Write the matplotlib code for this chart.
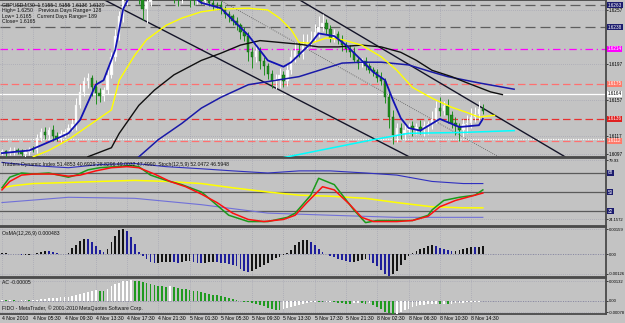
import matplotlib.pyplot as plt
import numpy as np

# prices are kept in pips above 1.6000
BASE = 1.6
PIP = 0.0001

first_open = 99
close_pips = [
    100, 98, 101, 102, 100, 97, 99, 103, 101, 115,
    121, 118, 124, 117, 114, 119, 122, 126, 130, 152,
    166, 178, 181, 172, 165, 162, 168, 185, 205, 228,
    250, 270, 276, 281, 278, 270, 258, 266, 274, 279,
    283, 282, 279, 276, 271, 269, 280, 277, 270, 268,
    272, 267, 268, 265, 263, 262, 258, 252, 250, 245,
    240, 233, 228, 210, 205, 212, 200, 195, 186, 178,
    180, 185, 178, 190, 205, 212, 208, 218, 222, 224,
    232, 238, 242, 236, 226, 230, 224, 218, 214, 210,
    202, 198, 200, 195, 190, 188, 182, 178, 160, 138,
    118, 126, 120, 124, 128, 125, 127, 124, 128, 130,
    136, 148, 145, 150, 140, 132, 128, 124, 130, 132,
    138, 142, 147, 145,
]
wick_up = [
    3, 2, 4, 3, 2, 3, 4, 2, 3, 4,
    5, 6, 3, 5, 4, 5, 3, 4, 6, 7,
    9, 5, 6, 4, 7, 5, 4, 6, 5, 8,
    6, 5, 7, 5, 4, 6, 5, 4, 6, 3,
    5, 4, 6, 4, 5, 3, 5, 4, 6, 3,
    4, 3, 5, 2, 4, 3, 5, 3, 4, 3,
    4, 3, 5, 4, 6, 8, 4, 5, 3, 4,
    6, 8, 4, 7, 8, 9, 10, 12, 8, 10,
    9, 12, 10, 5, 4, 6, 4, 5, 3, 4,
    6, 3, 4, 5, 3, 4, 3, 6, 4, 5,
    8, 6, 5, 7, 4, 6, 5, 8, 6, 4,
    9, 8, 12, 6, 8, 5, 6, 4, 6, 8,
    10, 7, 9, 6,
]
wick_dn = [
    3, 4, 2, 5, 3, 2, 4, 3, 2, 3,
    3, 4, 5, 6, 3, 4, 3, 4, 3, 6,
    4, 5, 8, 10, 12, 7, 6, 4, 3, 5,
    4, 6, 8, 5, 4, 6, 12, 15, 5, 4,
    6, 3, 5, 4, 6, 8, 4, 5, 10, 5,
    4, 3, 5, 4, 6, 3, 5, 4, 6, 5,
    5, 8, 5, 10, 12, 6, 8, 10, 6, 8,
    9, 10, 6, 5, 4, 6, 3, 5, 4, 6,
    3, 5, 4, 6, 5, 4, 5, 6, 4, 5,
    3, 6, 4, 5, 3, 4, 5, 4, 6, 12,
    10, 8, 6, 7, 5, 8, 6, 5, 7, 9,
    5, 4, 6, 5, 8, 6, 10, 12, 8, 10,
    6, 5, 7, 4,
]

# moving averages, read as (bar, pips)
ma_fast = [(0, 98), (7, 101), (15, 116), (17, 120), (20, 135), (24, 174), (26, 179),
           (29, 213), (31, 258), (34, 284), (40, 288), (46, 281), (51, 265), (56, 259),
           (63, 229), (68, 201), (72, 194), (74, 199), (79, 220), (81, 231), (85, 228),
           (88, 218), (92, 201), (95, 188), (98, 179), (100, 157), (102, 137), (104, 126),
           (107, 123), (112, 136), (117, 127), (122, 129), (123, 136)]
ma_mid = [(8, 94), (12, 101), (17, 113), (25, 137), (28, 146), (30, 179), (34, 207),
          (37, 224), (42, 240), (46, 248), (51, 255), (56, 258), (63, 259), (68, 257),
          (71, 248), (74, 235), (76, 221), (79, 220), (83, 226), (87, 224), (92, 218),
          (97, 205), (101, 190), (105, 171), (110, 159), (115, 149), (119, 143),
          (122, 138), (126, 140)]
ma_slow = [(22, 94), (28, 104), (30, 120), (35, 151), (39, 168), (44, 185), (51, 201),
           (56, 209), (61, 218), (66, 223), (71, 221), (76, 219), (81, 216), (86, 216),
           (92, 218), (97, 216), (102, 210), (106, 201), (110, 190), (115, 183),
           (119, 176), (125, 166), (128, 163)]
ma_long = [(34, 90), (40, 113), (46, 131), (51, 148), (56, 160), (63, 174), (76, 183),
           (87, 198), (92, 199), (97, 199), (104, 196), (110, 188), (114, 183),
           (122, 176), (131, 169)]
ma_cyan = [(72, 93), (95, 113), (104, 120), (118, 121), (131, 123)]

trend_lower = [(26.3, 268), (104.3, 93.6)]
trend_upper = [(76.2, 268), (144, 94)]
trend_mid = [(55.8, 268), (128.6, 90)]

# horizontal levels: pips, colour, style, box colour (None = no box), box text colour
levels = [
    (262.5, "#5e5e5e", (0, (8, 4)), "#1c1c6e", "white"),
    (238.0, "#5e5e5e", (0, (8, 4)), "#1c1c6e", "white"),
    (214.0, "#ff00ff", (0, (6, 3, 1, 3)), "#ff00ff", "white"),
    (175.0, "#ff7070", (0, (6, 3)), "#ff7a6a", "white"),
    (164.0, "#ffffff", "-", "#ffffff", "black"),
    (136.0, "#e83030", (0, (6, 3)), "#e02020", "white"),
    (114.0, "#ffffff", (0, (1, 1)), None, None),
    (111.5, "#ff7070", (0, (6, 3)), "#ff7a6a", "white"),
]
price_ticks = [97, 117, 157, 197, 257]

# Traders Dynamic Index window
tdi_green = [(0, 54), (2, 64), (5, 68), (8, 67), (12, 68), (17, 64), (19, 66), (22, 71),
             (25, 73), (29, 74), (33, 75), (35, 74), (38, 66), (42, 61), (46, 57), (51, 50),
             (52, 47), (58, 28), (63, 22), (68, 22), (73, 26), (75, 30), (79, 47), (81, 63),
             (85, 57), (90, 33), (93, 21), (96, 23), (102, 23), (105, 23), (109, 28),
             (110, 33), (113, 42), (117, 45), (121, 47), (123, 52)]
tdi_red = [(0, 52), (2, 60), (5, 66), (8, 67), (13, 67), (17, 65), (20, 66), (24, 70),
           (28, 73), (32, 74), (35, 73), (39, 67), (43, 60), (47, 55), (51, 48), (55, 40),
           (59, 30), (63, 24), (67, 22), (72, 24), (75, 28), (78, 40), (82, 55), (85, 52),
           (89, 38), (92, 26), (95, 22), (101, 22), (105, 23), (109, 27), (112, 36),
           (116, 42), (119, 45), (123, 49)]
tdi_base = [(0, 54), (3, 56), (8, 58), (17, 59), (25, 60), (34, 61), (42, 60), (51, 58),
            (59, 54), (68, 50), (76, 47), (84, 46), (93, 44), (101, 40), (110, 36),
            (118, 35), (123, 35)]
tdi_upper = [(0, 78), (8, 75), (17, 73), (25, 76), (34, 77), (42, 74), (51, 72), (59, 70),
             (68, 68), (76, 70), (84, 70), (93, 68), (101, 66), (110, 60), (118, 58), (123, 58)]
tdi_lower = [(0, 40), (17, 45), (34, 44), (51, 38), (68, 30), (84, 28), (101, 26), (123, 26)]

# OsMA and AC, in units of 0.00001
osma = [
    4, 4, 3, 2, -2, -4, -4, -3, -2, 8,
    16, 20, 19, 12, 4, 3, 2, 5, 38, 55,
    80, 97, 95, 75, 50, 25, 10, 35, 75, 115,
    150, 160, 145, 110, 65, 15, -15, -32, -50, -58,
    -57, -52, -50, -48, -52, -55, -50, -46, -45, -50,
    -54, -57, -55, -51, -48, -50, -54, -58, -62, -68,
    -78, -92, -105, -112, -110, -98, -85, -70, -55, -40,
    -28, -16, -6, 8, 28, 55, 78, 90, 92, 78,
    55, 30, 10, 2, -12, -20, -30, -38, -45, -50,
    -48, -44, -38, -32, -40, -55, -75, -100, -125, -138,
    -130, -105, -70, -35, -12, 5, 20, 30, 40, 52,
    60, 50, 38, 30, 24, 18, 20, 26, 32, 38,
    44, 42, 45, 48,
]
ac = [
    3, 2, 3, 2, 1, 2, 3, 2, 3, 4,
    10, 13, 16, 19, 21, 22, 25, 28, 33, 40,
    47, 53, 57, 68, 74, 64, 62, 80, 96, 110,
    122, 130, 136, 140, 136, 131, 125, 119, 113, 107,
    102, 98, 95, 99, 93, 87, 82, 77, 72, 67,
    62, 57, 52, 47, 41, 35, 29, 23, 17, 10,
    4, -3, -7, -12, -17, -22, -30, -38, -47, -55,
    -60, -63, -57, -50, -43, -36, -29, -22, -16, -12,
    -8, -9, -11, -8, -6, -9, -13, -17, -20, -22,
    -18, -16, -19, -21, -18, -28, -42, -58, -74, -86,
    -90, -87, -78, -66, -54, -44, -36, -30, -27, -25,
    -23, -22, -24, -21, -23, -20, -17, -15, -13, -11,
    -10, -8, -7, -5,
]

time_labels = ["4 Nov 2010", "4 Nov 05:30", "4 Nov 09:30", "4 Nov 13:30", "4 Nov 17:30",
               "4 Nov 21:30", "5 Nov 01:30", "5 Nov 05:30", "5 Nov 09:30", "5 Nov 13:30",
               "5 Nov 17:30", "5 Nov 21:30", "8 Nov 02:30", "8 Nov 06:30", "8 Nov 10:30",
               "8 Nov 14:30"]
label_step = 8

plt.rcParams["font.family"] = ["Liberation Sans", "DejaVu Sans"]
FS = 3.7
FS_AX = 3.3
FS_SMALL = 3.0
BG = "#c3c3c3"
FRAME = "#4a4a4a"
W, H = 625, 323
PLOT_W = 606


def to_price(p):
    return BASE + np.asarray(p, dtype=float) * PIP


def xy(points):
    bars, vals = zip(*points)
    return np.array(bars), np.array(vals, dtype=float)


def panel(fig, top, bottom, label_size=FS_AX):
    ax = fig.add_axes([0, 1 - bottom / H, PLOT_W / W, (bottom - top) / H])
    ax.set_facecolor(BG)
    ax.set_xlim(-0.5, 154.5)
    ax.set_xticks(np.arange(len(time_labels)) * label_step)
    ax.tick_params(axis="x", length=0, labelbottom=False)
    ax.yaxis.tick_right()
    ax.tick_params(axis="y", length=1.5, labelsize=label_size, pad=0.6, colors="black", width=0.5)
    ax.grid(True, color="#9c9cae", ls=(0, (1, 2)), lw=0.5)
    for s in ax.spines.values():
        s.set_color(FRAME)
        s.set_linewidth(1.3)
    ax.spines["left"].set_visible(False)
    return ax


def box_label(ax, y, text, fc, tc):
    ax.text(1.003, y, text, transform=ax.get_yaxis_transform(), fontsize=FS_AX,
            color=tc, ha="left", va="center", clip_on=False,
            bbox=dict(boxstyle="square,pad=0.12", fc=fc, ec="none"))


fig = plt.figure(figsize=(W / 100, H / 100), dpi=100, facecolor=BG)

# ---- main price window
ax = panel(fig, 0, 157)
ax.set_ylim(to_price(93.7), to_price(268.1))
ax.set_yticks(to_price(price_ticks))
ax.set_yticklabels(["%.4f" % p for p in to_price(price_ticks)])

for lv, col, ls, fc, tc in levels:
    ax.axhline(to_price(lv), color=col, ls=ls, lw=0.9, zorder=1)
    if fc:
        box_label(ax, to_price(lv), "%.4f" % to_price(lv), fc, tc)

for pts, col, lw, ls in [(trend_lower, "#141428", 1.0, "-"), (trend_upper, "#141428", 1.0, "-"),
                         (trend_mid, "#5a5a5a", 0.6, (0, (1, 1.5)))]:
    bx, by = xy(pts)
    ax.plot(bx, to_price(by), color=col, lw=lw, ls=ls, zorder=2)

opens = [first_open] + close_pips[:-1]
for i, (o, c) in enumerate(zip(opens, close_pips)):
    hi = max(o, c) + wick_up[i]
    lo = min(o, c) - wick_dn[i]
    up = c >= o
    col = "#ffffff" if up else "#1f8f1f"
    ax.vlines(i, to_price(lo), to_price(hi), color=col, lw=0.7, zorder=3)
    body = max(abs(c - o), 0.8)
    ax.bar(i, body * PIP, bottom=to_price(min(o, c)), width=0.62, color=col,
           edgecolor="#e8e8e8" if up else "#0d5e0d", linewidth=0.3, zorder=4)

for pts, col, lw in [(ma_long, "#1a1aa8", 1.1), (ma_slow, "#101010", 1.0),
                     (ma_mid, "#ffff00", 1.0), (ma_cyan, "#00ffff", 1.1),
                     (ma_fast, "#1212b4", 1.3)]:
    bx, by = xy(pts)
    ax.plot(bx, to_price(by), color=col, lw=lw, zorder=5)

info = ["GBPUSD,M30  1.6155 1.6155 1.6136 1.6139",
        "High= 1.6250    Previous Days Range= 128",
        "Low= 1.6165    Current Days Range= 189",
        "Close= 1.6165"]
for k, line in enumerate(info):
    ax.text(0.004, 1 - (5 + 5.6 * k) / 157, line, transform=ax.transAxes,
            fontsize=FS, color="#101010", va="center", zorder=6)

# ---- Traders Dynamic Index window
ax2 = panel(fig, 158, 226, FS_SMALL)
ax2.set_ylim(17.8, 82.2)
ax2.set_yticks([24.1572, 79.93])
ax2.set_yticklabels(["24.1572", "79.93"])
for lv in (68, 50, 32):
    ax2.axhline(lv, color="#5a5a5a", lw=0.9)
    box_label(ax2, lv, "%d" % lv, "#1c1c6e", "white")
for pts, col, lw in [(tdi_lower, "#7070d8", 0.8), (tdi_upper, "#3030c0", 0.8),
                     (tdi_base, "#ffff00", 1.1), (tdi_green, "#1a9a1a", 1.1),
                     (tdi_red, "#ff1010", 1.1)]:
    bx, by = xy(pts)
    ax2.plot(bx, by, color=col, lw=lw)
ax2.text(0.004, 0.9, "Traders Dynamic Index 51.4853 40.6929 28.8296 49.0032 47.4990  "
         "Stoch(12,5,9) 52.0472 46.5948", transform=ax2.transAxes, fontsize=FS,
         color="#101010", va="center")

# ---- OsMA window
ax3 = panel(fig, 227, 277, FS_SMALL)
ax3.set_ylim(-146, 172)
ax3.set_yticks([-126, 0, 159])
ax3.set_yticklabels(["-0.00126", "0.00", "0.00159"])
osma_cols = ["#141414"] + ["#141414" if b >= a else "#1e1e9a" for a, b in zip(osma[:-1], osma[1:])]
ax3.bar(np.arange(len(osma)), osma, width=0.45, color=osma_cols, zorder=3)
ax3.axhline(0, color="#7a7a9a", ls=(0, (1, 2)), lw=0.6)
ax3.text(0.004, 0.88, "OsMA(12,26,9) 0.000483", transform=ax3.transAxes,
         fontsize=FS, color="#101010", va="center")

# ---- Accelerator window
ax4 = panel(fig, 278, 314, FS_SMALL)
ax4.set_ylim(-90, 153)
ax4.set_yticks([-78, 0, 132])
ax4.set_yticklabels(["-0.00078", "0.00", "0.00132"])
ac_cols = ["#ffffff"] + ["#ffffff" if b >= a else "#1f9a1f" for a, b in zip(ac[:-1], ac[1:])]
ax4.bar(np.arange(len(ac)), ac, width=0.45, color=ac_cols, zorder=3)
ax4.axhline(0, color="#7a7a9a", ls=(0, (1, 2)), lw=0.6)
ax4.text(0.004, 0.87, "AC -0.00005", transform=ax4.transAxes,
         fontsize=FS, color="#101010", va="center")
ax4.text(0.004, 0.15, "FIDO - MetaTrader, \u00a9 2001-2010 MetaQuotes Software Corp.",
         transform=ax4.transAxes, fontsize=FS, color="#101010", va="center")
ax4.tick_params(axis="x", labelbottom=True, labelsize=FS, pad=1.2)
ax4.set_xticklabels(time_labels, ha="left")

fig.savefig("out.png", dpi=100, facecolor=BG)
